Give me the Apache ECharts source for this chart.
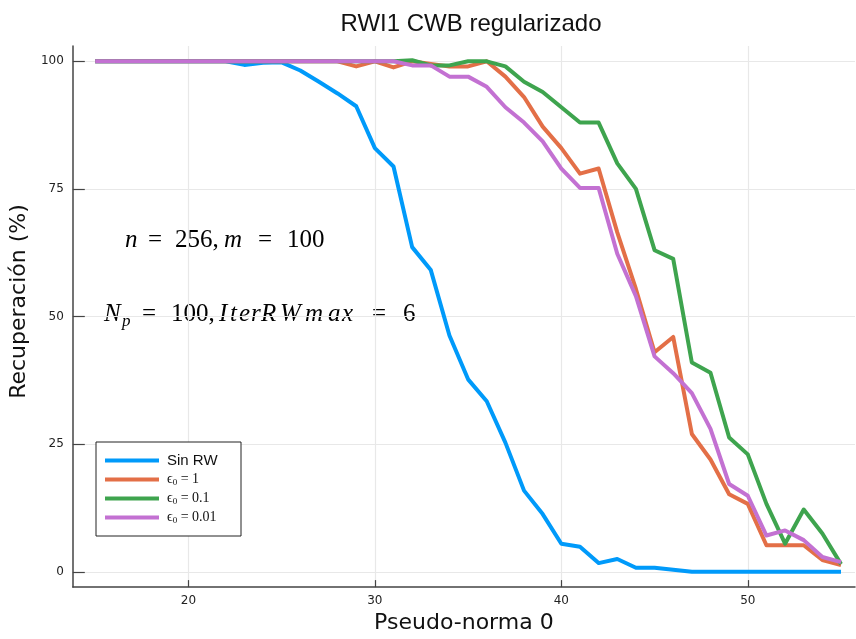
<!DOCTYPE html>
<html>
<head>
<meta charset="utf-8">
<script src="https://cdn.jsdelivr.net/npm/echarts@6/dist/echarts.min.js"></script>
<style>html,body{margin:0;padding:0;background:#fff}#c{width:856px;height:639px}</style>
</head>
<body>
<div id="c"></div>
<script>
const xValues = [15,16,17,18,19,20,21,22,23,24,25,26,27,28,29,30,31,32,33,34,35,36,37,38,39,40,41,42,43,44,45,46,47,48,49,50,51,52,53,54,55];
const sinRW = [100,100,100,100,100,100,100,100,99.3,99.7,99.8,98.2,96,93.7,91.2,83,79.4,63.6,59.1,46.3,37.7,33.4,25.3,15.9,11.3,5.5,4.9,1.7,2.5,0.8,0.8,0.4,0,0,0,0,0,0,0,0,0];
const eps1 = [100,100,100,100,100,100,100,100,100,100,100,100,100,100,99,100,98.8,100,99.5,99,99,100,97,93,87.2,83,78,79,66.5,55.4,43,46,27,22,15.2,13.3,5.2,5.2,5.2,2.3,1.3];
const eps01 = [100,100,100,100,100,100,100,100,100,100,100,100,100,100,100,100,100,100.2,99.2,99.2,100,100,99,96,94,91,88,88,80,75,63,61.3,41,39,26.3,23,13.3,5.5,12.2,7.5,1.5];
const eps001 = [100,100,100,100,100,100,100,100,100,100,100,100,100,100,100,100,100,99.2,99.2,97,97,95,91,88,84.3,79,75.2,75.2,62.3,54,42.2,38.9,35,28,17.2,14.9,7.1,8.1,6.2,2.9,1.9];
const seriesNames = ['Sin RW', 'eps1', 'eps01', 'eps001'];
const legendLabels = ['Sin RW', '{e|ϵ}{s|0}{m| = 1}', '{e|ϵ}{s|0}{m| = 0.1}', '{e|ϵ}{s|0}{m| = 0.01}'];
const xTicks = [20,30,40,50];
const yTicks = [0,25,50,75,100];

const colors = ['#009AFA', '#E36F47', '#3EA44E', '#C371D2'];
function pairs(arr){ return xValues.map((x,i)=>[x,arr[i]]); }
const allData = [sinRW, eps1, eps01, eps001];

const sans = '"Liberation Sans", Arial, sans-serif';
const dejavu = '"DejaVu Sans", sans-serif';
const mathFont = '"Liberation Serif", "DejaVu Serif", serif';

// math annotation tokens: [text, x, italic, size, yCenter]
const mathTokens = [
  ['n', 125, true, 25, 240], ['=', 148, false, 25, 240], ['256,', 175, false, 25, 240],
  ['m', 224, true, 25, 240], ['=', 258, false, 25, 240], ['100', 287, false, 25, 240],
  ['N', 104, true, 25, 314], ['p', 122, true, 17, 322], ['=', 142, false, 25, 314], ['100,', 171, false, 25, 314],
  ['I', 219, true, 25, 314], ['t', 230, true, 25, 314], ['e', 239, true, 25, 314], ['r', 251, true, 25, 314],
  ['R', 261, true, 25, 314], ['W', 280, true, 25, 314], ['m', 305, true, 25, 314], ['a', 328, true, 25, 314],
  ['x', 342, true, 25, 314], ['=', 372, false, 25, 314], ['6', 403, false, 25, 314]
];

const chart = echarts.init(document.getElementById('c'), null, {renderer:'canvas'});
chart.setOption({
  backgroundColor: '#fff',
  animation: false,
  color: colors,
  title: {
    text: 'RWI1 CWB regularizado',
    left: 466, top: 7, textAlign: 'center',
    textStyle: {fontFamily: sans, fontSize: 24, fontWeight: 'normal', color: '#111'}
  },
  grid: {left: 70, top: 46, right: 1, bottom: 49, containLabel: false},
  xAxis: {
    type: 'value', min: 13.8, max: 55.75,
    name: 'Pseudo-norma 0', nameLocation: 'middle', nameGap: 23,
    nameTextStyle: {fontFamily: dejavu, fontSize: 22, color: '#111'},
    axisLine: {show: true, onZero: false, lineStyle: {color: '#444', width: 1.5}},
    axisTick: {show: true, inside: true, length: 7, customValues: xTicks, lineStyle: {color: '#444', width: 1.2}},
    axisLabel: {customValues: xTicks, fontFamily: dejavu, fontSize: 12, color: '#222', margin: 8},
    splitLine: {show: true, lineStyle: {color: '#e8e8e8', width: 1.2}}
  },
  yAxis: {
    type: 'value', min: -3, max: 103,
    name: 'Recuperación (%)', nameLocation: 'middle', nameGap: 39,
    nameTextStyle: {fontFamily: dejavu, fontSize: 22, color: '#111', padding: [0, 0, 0, 30]},
    axisLine: {show: true, onZero: false, lineStyle: {color: '#444', width: 1.5}},
    axisTick: {show: true, inside: true, length: 12, customValues: yTicks, lineStyle: {color: '#444', width: 1.2}},
    axisLabel: {customValues: yTicks, fontFamily: dejavu, fontSize: 12, color: '#222', margin: 9},
    splitLine: {show: true, lineStyle: {color: '#e8e8e8', width: 1.2}}
  },
  legend: {
    orient: 'vertical', left: 96, top: 442,
    data: seriesNames,
    icon: 'rect', itemWidth: 54, itemHeight: 4, itemGap: 4,
    padding: [11, 19, 11, 9],
    borderColor: '#222', borderWidth: 1, backgroundColor: '#fff',
    formatter: n => legendLabels[seriesNames.indexOf(n)],
    textStyle: {fontFamily: sans, fontSize: 15, color: '#111', lineHeight: 15, padding: [0, 0, 0, 3], width: 55,
      rich: {
        e: {fontFamily: mathFont, fontSize: 14, color: '#111', lineHeight: 15},
        s: {fontFamily: mathFont, fontSize: 9, color: '#111', lineHeight: 15, verticalAlign: 'bottom'},
        m: {fontFamily: mathFont, fontSize: 14, color: '#111', lineHeight: 15}
      }}
  },
  graphic: mathTokens.map(t => ({
    type: 'text', x: t[1], y: t[4], silent: true,
    style: {text: t[0], fontFamily: mathFont, fontStyle: t[2] ? 'italic' : 'normal', fontSize: t[3],
      fill: '#000', verticalAlign: 'middle', align: 'left'}
  })),
  series: seriesNames.map((n, k) => ({
    name: n, type: 'line', data: pairs(allData[k]), showSymbol: false, symbol: 'none',
    lineStyle: {width: 4, color: colors[k], join: 'round'}, z: 2 + k
  }))
});
</script>
</body>
</html>
